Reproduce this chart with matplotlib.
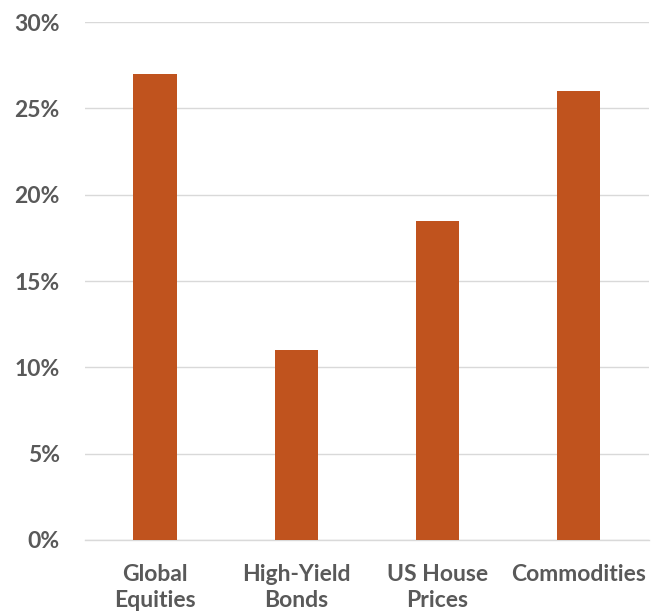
import matplotlib
matplotlib.use('Agg')
import matplotlib.pyplot as plt
from matplotlib.ticker import PercentFormatter

# data
categories = ['Global\nEquities', 'High-Yield\nBonds', 'US House\nPrices', 'Commodities']
values = [27.0, 11.0, 18.5, 26.0]
y_ticks = [0, 5, 10, 15, 20, 25, 30]

bar_color = '#C0531E'
text_color = '#595959'
grid_color = '#D9D9D9'

plt.rcParams['font.family'] = ['Lato', 'DejaVu Sans']

fig = plt.figure(figsize=(6.57, 6.15), dpi=100)
ax = fig.add_axes([0.129, 0.122, 0.859, 0.842])

x = list(range(len(categories)))
ax.bar(x, values, width=0.31, color=bar_color, zorder=3)

ax.set_xlim(-0.5, len(categories) - 0.5)
ax.set_ylim(0, 30)
ax.set_yticks(y_ticks)
ax.yaxis.set_major_formatter(PercentFormatter(decimals=0))
ax.set_xticks(x)
ax.set_xticklabels(categories)

ax.grid(axis='y', color=grid_color, linewidth=1, zorder=0)
for side in ['top', 'right', 'left']:
    ax.spines[side].set_visible(False)
ax.spines['bottom'].set_color(grid_color)
ax.spines['bottom'].set_linewidth(1)

ax.tick_params(axis='both', length=0, colors=text_color, labelsize=16.5)
ax.tick_params(axis='y', pad=18)
ax.tick_params(axis='x', pad=17)
for lbl in ax.get_xticklabels() + ax.get_yticklabels():
    lbl.set_fontweight('bold')
    lbl.set_linespacing(1.3)

fig.savefig('out.png', dpi=100)
